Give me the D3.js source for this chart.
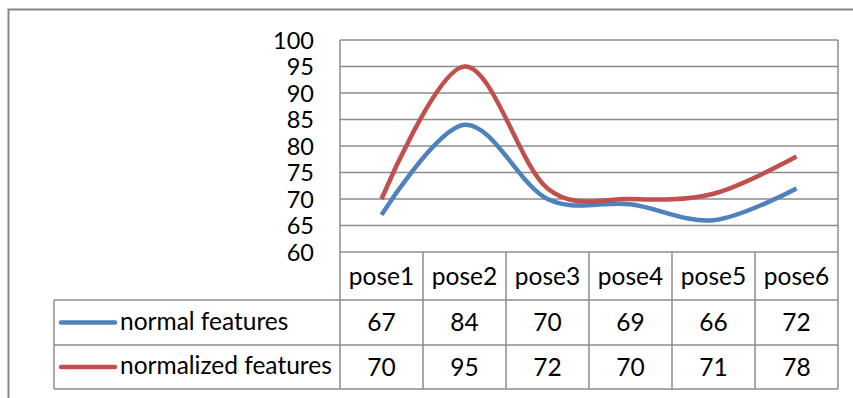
<!DOCTYPE html>
<html><head><meta charset="utf-8">
<script src="https://cdn.jsdelivr.net/npm/d3@7"></script>
<style>body{margin:0;background:#fff}svg{display:block}text{font-family:Lato,"Open Sans",sans-serif;fill:#000}</style>
</head><body><svg id="c" width="853" height="398"></svg>
<script>
const categories = ["pose1","pose2","pose3","pose4","pose5","pose6"];
const seriesNames = ["normal features","normalized features"];
const normalValues = [67,84,70,69,66,72];
const normalizedValues = [70,95,72,70,71,78];
const yTicks = [60,65,70,75,80,85,90,95,100];
const colors = ["#4F81BD","#C0504D"];

(function(){
const svg = d3.select("#c");
const FS = 24.5;
svg.append("rect").attr("x",8.5).attr("y",9.5).attr("width",900).attr("height",500)
  .attr("fill","none").attr("stroke","#868686").attr("stroke-width",2);

const pLeft = 340, pRight = 838, pTop = 40, pBottom = 252;
const x = d3.scaleBand().domain(categories).range([pLeft,pRight]);
const y = d3.scaleLinear().domain([60,100]).range([pBottom,pTop]);
const grid = "#8c8c8c";

svg.append("g").selectAll("line").data(yTicks).join("line")
  .attr("x1",pLeft).attr("x2",pRight).attr("y1",d=>y(d)).attr("y2",d=>y(d))
  .attr("stroke",grid).attr("stroke-width",1.5);
svg.append("line").attr("x1",pLeft).attr("x2",pLeft).attr("y1",pTop).attr("y2",pBottom).attr("stroke",grid).attr("stroke-width",1.5);

const yAxis = d3.axisLeft(y).tickValues(yTicks).tickSize(0).tickPadding(0);
const ga = svg.append("g").attr("transform",`translate(${pLeft-26},0)`).call(yAxis);
ga.select(".domain").remove();
ga.selectAll("text").attr("font-size",FS-1).attr("font-family",null).attr("fill","#000").attr("dy","0.34em");

const rowTops = [252, 300, 345, 389];
const tableLeft = 54;
const tg = svg.append("g");
categories.forEach((c)=>{
  tg.append("line").attr("x1",x(c)).attr("x2",x(c)).attr("y1",rowTops[0]).attr("y2",rowTops[3]).attr("stroke",grid).attr("stroke-width",1.5);
});
tg.append("line").attr("x1",pRight).attr("x2",pRight).attr("y1",pTop).attr("y2",rowTops[3]).attr("stroke",grid).attr("stroke-width",1.5);
tg.append("line").attr("x1",tableLeft).attr("x2",tableLeft).attr("y1",rowTops[1]).attr("y2",rowTops[3]).attr("stroke",grid).attr("stroke-width",1.5);
[1,2,3].forEach(k=>{
  tg.append("line").attr("x1",tableLeft).attr("x2",pRight).attr("y1",rowTops[k]).attr("y2",rowTops[k]).attr("stroke",grid).attr("stroke-width",1.5);
});
tg.selectAll("text.h").data(categories).join("text").attr("class","h")
  .attr("x",d=>x(d)+x.bandwidth()/2).attr("y",(rowTops[0]+rowTops[1])/2).attr("dy","0.35em")
  .attr("text-anchor","middle").attr("font-size",FS).text(d=>d);
const allSeries = [normalValues, normalizedValues];
allSeries.forEach((vals,si)=>{
  const cy = (rowTops[si+1]+rowTops[si+2])/2;
  tg.selectAll("text.v"+si).data(vals).join("text").attr("class","v"+si)
    .attr("x",(d,i)=>x(categories[i])+x.bandwidth()/2).attr("y",cy).attr("dy","0.35em")
    .attr("text-anchor","middle").attr("font-size",FS).text(d=>d);
  tg.append("line").attr("x1",61).attr("x2",115).attr("y1",cy).attr("y2",cy)
    .attr("stroke",colors[si]).attr("stroke-width",4.5).attr("stroke-linecap","round");
  tg.append("text").attr("x",120).attr("y",cy).attr("dy","0.3em").attr("font-size",FS).text(seriesNames[si]);
});

const line = d3.line().x((d,i)=>x(categories[i])+x.bandwidth()/2).y(d=>y(d)).curve(d3.curveCatmullRom.alpha(0));
allSeries.forEach((vals,si)=>{
  svg.append("path").datum(vals).attr("d",line).attr("fill","none")
    .attr("stroke",colors[si]).attr("stroke-width",4.5).attr("stroke-linecap","butt").attr("stroke-linejoin","round");
});
})();
</script></body></html>
